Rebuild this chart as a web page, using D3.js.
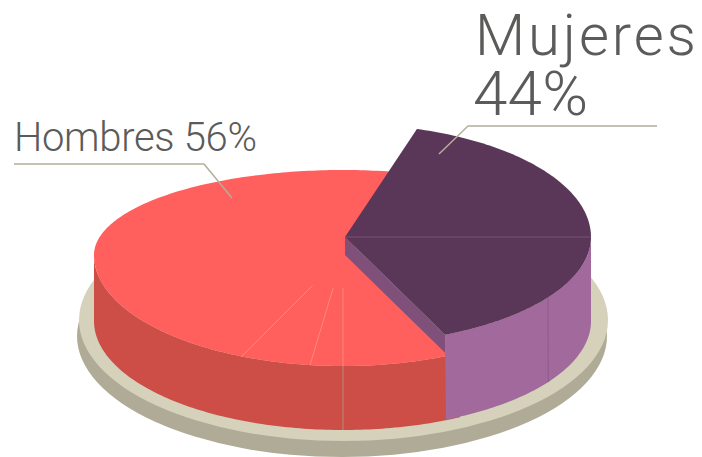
<!DOCTYPE html>
<html>
<head>
<meta charset="utf-8">
<script src="https://cdn.jsdelivr.net/npm/d3@7"></script>
<style>
  html, body { margin: 0; padding: 0; background: #fff; }
  svg { display: block; }
  text { font-family: Roboto, sans-serif; font-weight: 300; fill: #5b5b59; }
</style>
</head>
<body>
<script>
// data
const categories = ["Mujeres", "Hombres"]
const percents = [44, 56]
// where the slices meet, seen in the tilted drawing (degrees, clockwise from east)
const seenAngles = [-73, 66, 287]
// thin seams on the red slice and the purple slice
const redSeams = [90, 97.6, 114]
const purpleSeams = [34.4]

const width = 702, height = 457
const rad = Math.PI / 180

const svg = d3.select("body").append("svg")
  .attr("width", width)
  .attr("height", height)

const slices = d3.pie().sort(null)(percents)

// pie angle -> angle as drawn
const seenAngle = d3.scaleLinear()
  .domain([0, slices[0].endAngle, slices[1].endAngle])
  .range(seenAngles)

// flattened disc, the near half is a bit deeper than the far half
function disc(cx, cy, rx, ryFar, ryNear) {
  return function(deg, k = 1) {
    let s = Math.sin(deg * rad)
    return [cx + k * rx * Math.cos(deg * rad), cy + k * (s > 0 ? ryNear : ryFar) * s]
  }
}

function arcPoints(d, from, to) {
  let n = Math.ceil(Math.abs(to - from))
  return d3.range(n + 1).map(i => d(from + (to - from) * i / n))
}

const line = d3.line()

function wall(top, bottom, from, to) {
  return line(arcPoints(top, from, to).concat(arcPoints(bottom, to, from))) + "Z"
}

function wedge(d, from, to) {
  return line([d(0, 0)].concat(arcPoints(d, from, to))) + "Z"
}

const a = seenAngle(slices[0].startAngle)
const b = seenAngle(slices[0].endAngle)
const c = seenAngle(slices[1].endAngle)

const redTop = disc(343, 255, 249, 85, 111)
const redBottom = disc(343, 321, 249, 109, 109)
const purpleTop = disc(345, 237, 246, 113, 107)
const purpleBottom = disc(346.5, 321, 244.5, 108, 108)
const purpleInner = disc(345, 255, 246, 113, 107)

// plate under the pie
svg.append("ellipse")
  .attr("cx", 342).attr("cy", 336)
  .attr("rx", 265).attr("ry", 121)
  .style("fill", "#b0ab97")

svg.append("ellipse")
  .attr("cx", 343.5).attr("cy", 320)
  .attr("rx", 264.5).attr("ry", 121)
  .style("fill", "#d6d1bb")

// red slice, runs a little under the purple one so no plate shows between them
svg.append("path")
  .attr("d", wall(redTop, redBottom, b - 4, 180))
  .style("fill", "#cc4e47")

svg.append("path")
  .attr("d", line([[347, 255]].concat(arcPoints(redTop, b - 4, c))) + "Z")
  .style("fill", "#ff5f5d")

svg.selectAll(".redSeam").data(redSeams).enter().append("path")
  .attr("class", "redSeam")
  .attr("d", s => line([redTop(s, 0.3), redTop(s)]))
  .style("stroke", "#fb8a7d")
  .style("stroke-width", 1)
  .style("fill", "none")

svg.append("path")
  .attr("d", line([redTop(90), redBottom(90)]))
  .style("stroke", "#b98a78")
  .style("stroke-width", 1)

// purple slice
svg.append("path")
  .attr("d", line([purpleTop(0, 0), purpleTop(b), purpleInner(b), purpleInner(0, 0)]) + "Z")
  .style("fill", "#7f5079")

svg.append("path")
  .attr("d", wall(purpleTop, purpleBottom, 0, b))
  .style("fill", "#a1699c")

svg.selectAll(".purpleSeam").data(purpleSeams).enter().append("path")
  .attr("class", "purpleSeam")
  .attr("d", s => line([purpleTop(s), purpleBottom(s)]))
  .style("stroke", "#8f5b8a")
  .style("stroke-width", 1)

svg.append("path")
  .attr("d", wedge(purpleTop, a, b))
  .style("fill", "#5a3758")

svg.append("path")
  .attr("d", line([purpleTop(0, 0), purpleTop(0)]))
  .style("stroke", "#7b5173")
  .style("stroke-width", 1)

// leaders
const leaders = [
  [[14, 164], [204, 164], [232, 198]],
  [[657, 126], [468, 126], [439, 154]]
]
svg.selectAll(".leader").data(leaders).enter().append("path")
  .attr("class", "leader")
  .attr("d", d => line(d))
  .style("fill", "none")
  .style("stroke", "#b3af9b")
  .style("stroke-width", 1.5)
  .style("stroke-linejoin", "round")

// labels
svg.append("text")
  .attr("x", 14).attr("y", 151)
  .attr("textLength", 243)
  .style("font-size", "40px")
  .text(categories[1] + " " + percents[1] + "%")

svg.append("text")
  .attr("x", 475).attr("y", 54.5)
  .attr("textLength", 221)
  .style("font-size", "58px")
  .text(categories[0])

svg.append("text")
  .attr("x", 473).attr("y", 115)
  .attr("textLength", 115)
  .style("font-size", "62px")
  .text(percents[0] + "%")
</script>
</body>
</html>
